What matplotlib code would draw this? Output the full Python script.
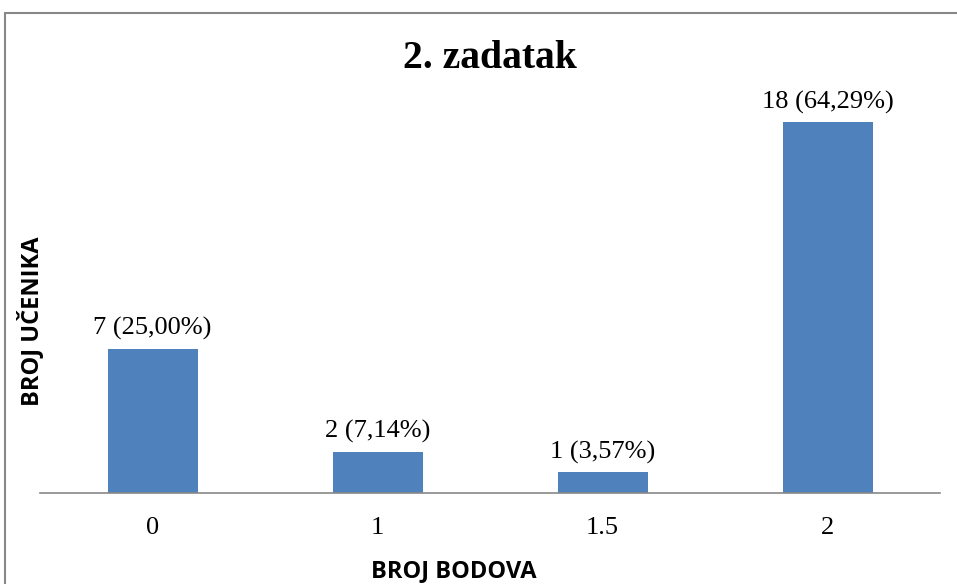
import matplotlib
matplotlib.use("Agg")
import matplotlib.pyplot as plt
from matplotlib.patches import Rectangle

# Podaci
kategorije = ["0", "1", "1.5", "2"]
broj_ucenika = [7, 2, 1, 18]
postoci = ["25,00%", "7,14%", "3,57%", "64,29%"]

boja = "#4F81BD"

fig = plt.figure(figsize=(9.57, 5.84), dpi=100)
ax = fig.add_axes([40 / 957, 1 - 493 / 584, 900 / 957, (493 - 81) / 584])

pozicije = range(len(kategorije))
ax.bar(pozicije, broj_ucenika, width=0.4, color=boja)

# oznake iznad stupaca
for p, v, pc in zip(pozicije, broj_ucenika, postoci):
    ax.annotate(f"{v} ({pc})", (p, v), xytext=(0, 10), textcoords="offset points",
                ha="center", va="baseline", family="Liberation Serif", fontsize=19)

ax.set_xlim(-0.5, len(kategorije) - 0.5)
ax.set_ylim(0, 20)
ax.set_xticks(list(pozicije))
ax.set_xticklabels(kategorije, family="Liberation Serif", fontsize=19)
ax.tick_params(axis="x", length=0, pad=17)
ax.set_yticks([])
for s in ["top", "right", "left"]:
    ax.spines[s].set_visible(False)
ax.spines["bottom"].set_color("#888888")
ax.spines["bottom"].set_linewidth(1.2)

ax.set_xlabel("BROJ BODOVA", family="Open Sans", fontweight="bold", fontsize=17)
ax.xaxis.set_label_coords(414 / 900, (493 - 571) / 412)
ax.xaxis.label.set_va("center")
ax.set_ylabel("BROJ UČENIKA", family="Open Sans", fontweight="bold", fontsize=17)
ax.yaxis.set_label_coords((31 - 40) / 900, (493 - 321) / 412)
ax.yaxis.label.set_va("center")

fig.text(490 / 957, 1 - 58 / 584, "2. zadatak", ha="center", va="center",
         family="Liberation Serif", fontweight="bold", fontsize=28.5)

# okvir
fig.patches.append(Rectangle((5 / 957, -0.1), 1.1, 1.1 - 13 / 584, transform=fig.transFigure,
                             fill=False, edgecolor="#888888", linewidth=1.5))

fig.savefig("out.png", dpi=100)
